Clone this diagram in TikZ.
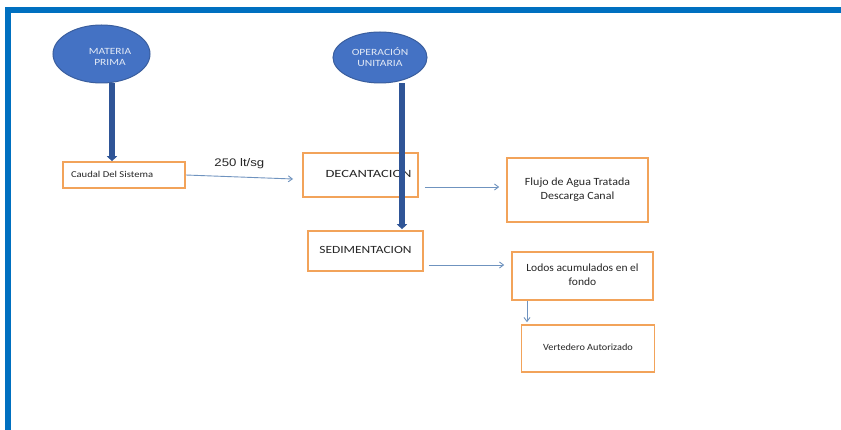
\documentclass[tikz,border=0pt]{standalone}
\usepackage{fontspec}
\usepackage{graphicx}
\setmainfont{Carlito}
\newfontfamily\arialfont{Liberation Sans}
\usetikzlibrary{shapes.geometric,arrows.meta}
\definecolor{frameblue}{HTML}{0070C0}
\definecolor{ovalfill}{HTML}{4472C4}
\definecolor{ovalline}{HTML}{3A5E9E}
\definecolor{boxorange}{HTML}{F2A35A}
\definecolor{flowblue}{HTML}{6F93BF}
\definecolor{thickblue}{HTML}{2F5597}
% horizontally widened, centred text block
\newcommand{\widetxt}[2]{\scalebox{#1}[1]{\begin{tabular}{@{}c@{}}#2\end{tabular}}}
\begin{document}
\begin{tikzpicture}[x=1pt,y=-1pt,
  oval/.style={ellipse,draw=ovalline,fill=ovalfill,line width=1pt,inner sep=0pt},
  ovaltext/.style={inner sep=0pt,text=white!85!ovalfill,font=\fontsize{9.5}{11}\selectfont,align=center},
  procbox/.style={draw=boxorange,line width=1.6pt,fill=white,inner sep=0pt,
    text=black!85,font=\fontsize{11}{13.5}\selectfont,align=center},
  flow/.style={draw=flowblue,line width=0.9pt,-{Straight Barb[length=4pt,width=6pt]}},
  feed/.style={draw=thickblue,line width=5.5pt,-{Triangle[length=5pt,width=10pt]}}]
\useasboundingbox (0,0) rectangle (841,430);
\fill[white] (0,0) rectangle (841,430);
% outer frame
\draw[frameblue,line width=6pt] (8,436) -- (8,10) -- (848,10);

% top ellipses and their captions
\node[oval,minimum width=97pt,minimum height=58pt] (mp) at (101.5,54) {};
\node[ovaltext] (mptext) at (110,57.5) {\widetxt{1.2}{MATERIA\\PRIMA}};
\node[oval,minimum width=94pt,minimum height=51pt] (ou) at (380,57.5) {};
\node[ovaltext] (outext) at (380,58.5) {\widetxt{1.22}{OPERACIÓN\\UNITARIA}};

% process boxes
\node[procbox,minimum width=122pt,minimum height=26pt,font=\fontsize{9}{11}\selectfont]
  (caudal) at (124,175) {\makebox[106pt][l]{\widetxt{1.18}{Caudal Del Sistema}}};
\node[procbox,minimum width=115pt,minimum height=44pt] (dec) at (360.5,175)
  {\hspace*{16pt}\widetxt{1.32}{DECANTACION}};
\node[procbox,minimum width=115pt,minimum height=40pt] (sed) at (365.5,251)
  {\widetxt{1.22}{SEDIMENTACION}};
\node[procbox,minimum width=141pt,minimum height=64pt] (flujo) at (577.5,190)
  {\widetxt{1.09}{Flujo de Agua Tratada\\Descarga Canal}};
\node[procbox,minimum width=141pt,minimum height=48pt] (lodos) at (582.5,276)
  {\widetxt{1.05}{Lodos acumulados en el\\fondo}};
\node[procbox,minimum width=133pt,minimum height=47pt,font=\fontsize{9.5}{11}\selectfont]
  (vert) at (588,348.5) {\widetxt{1.08}{Vertedero Autorizado}};

% thin flow arrows
\coordinate (caudalend) at (293,179);
\draw[flow] (caudal.east) -- node[above=4pt,font=\arialfont\fontsize{11}{12}\selectfont,text=black!85]
  {\scalebox{1.2}[1]{250 lt/sg}} (caudalend);
\draw[flow,shorten <=6pt,shorten >=7pt] (dec.east |- 0,187) -- (flujo.west |- 0,187);
\draw[flow,shorten <=5pt,shorten >=7pt] (sed.east |- 0,265) -- (lodos.west |- 0,265);
\draw[flow,shorten >=2pt] (lodos.south -| 527,0) -- (vert.north -| 527,0);

% thick feed arrows
\draw[feed] (mp.south -| 112,0) -- (caudal.north -| 112,0);
\draw[feed] (ou.south -| 402,0) -- ([yshift=1pt]sed.north -| 402,0);
\end{tikzpicture}
\end{document}
